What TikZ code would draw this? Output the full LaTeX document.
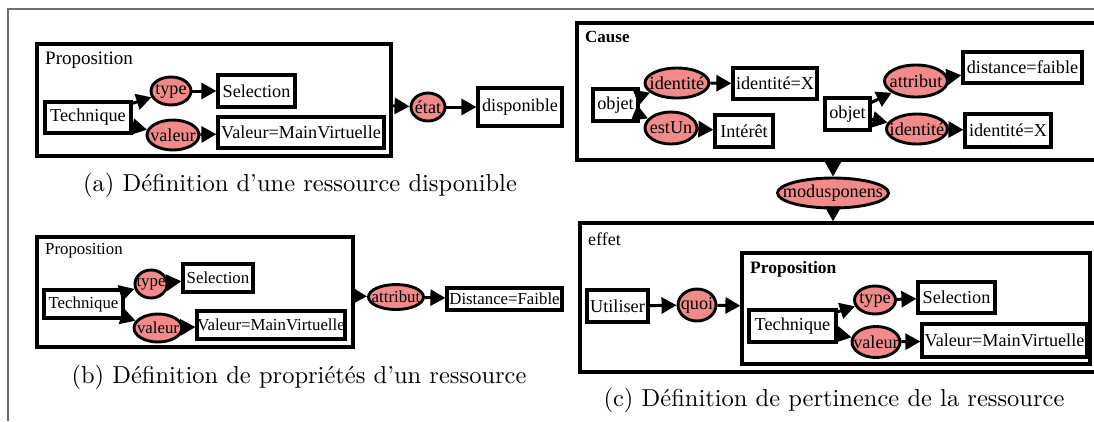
\documentclass[tikz,border=0pt]{standalone}
\usepackage{fontspec}
\usetikzlibrary{arrows.meta,shapes.geometric}
\newfontfamily\tnr{Liberation Serif}
\newfontfamily\capfont[Ligatures=TeX]{lmroman10-regular.otf}
\definecolor{relfill}{RGB}{241,138,138}
\definecolor{framegray}{RGB}{110,110,110}
\newcommand{\fixed}[1]{\makebox[0pt]{#1}}
\tikzset{
	box/.style 2 args={draw, line width=3.2pt, minimum width=#1, minimum height=#2, inner sep=0pt},
	rel/.style 2 args={ellipse, draw, fill=relfill, line width=2.9pt, minimum width=#1, minimum height=#2, inner sep=0pt},
	arr/.style={line width=3pt, -{Triangle[length=15pt,width=16pt]}},
	txt/.style={font=\tnr\fontsize{18.2}{20}\selectfont},
	txtsmall/.style={font=\tnr\fontsize{16.8}{18}\selectfont},
	title/.style={anchor=west, inner sep=0pt},
	caption/.style={font=\capfont\fontsize{24.5}{28}\selectfont}
}
\begin{document}
\begin{tikzpicture}[x=1pt,y=-1pt]
	\clip (0,0) rectangle (1094,421);
	\draw[framegray, line width=1.2pt] (8,421) -- (8,9) -- (1094,9);

	% (a)
	\begin{scope}[txt]
		\node[box={354pt}{112pt}] (propA) at (214,100) {};
		\node[title, font=\tnr\fontsize{19}{21}\selectfont] (labA) at (45,60) {Proposition};
		\node[box={86pt}{31pt}] (techA) at (88,117.5) {Technique};
		\node[rel={40pt}{28pt}] (typeA) at (171,91) {\fixed{type}};
		\node[box={77pt}{32pt}] (selA) at (256.5,91) {Selection};
		\node[rel={52pt}{30pt}] (valA) at (173,135) {\fixed{valeur}};
		\node[box={166pt}{31pt}] (valvA) at (301,132.5) {Valeur=MainVirtuelle};
		\node[rel={34pt}{28pt}] (etat) at (428,107) {\fixed{état}};
		\node[box={84pt}{38pt}] (dispo) at (520,107) {disponible};

		\draw[arr] (techA) -- (typeA);
		\draw[arr] (techA) -- (valA);
		\draw[arr] (typeA) -- (selA);
		\draw[arr] (valA) -- (valvA);
		\draw[arr] (propA) -- (etat);
		\draw[arr] (etat) -- (dispo);
	\end{scope}
	\node[caption] (capA) at (300,185) {(a) Définition d'une ressource disponible};

	% (b)
	\begin{scope}[txtsmall]
		\node[box={316pt}{110pt}] (propB) at (195,292) {};
		\node[title] (labB) at (45,251) {Proposition};
		\node[box={79pt}{28pt}] (techB) at (83.5,304) {Technique};
		\node[rel={32pt}{28pt}] (typeB) at (151,284) {\fixed{type}};
		\node[box={70pt}{28pt}] (selB) at (218,278) {Selection};
		\node[rel={48pt}{28pt}] (valB) at (158,328) {\fixed{valeur}};
		\node[box={148pt}{28pt}] (valvB) at (271,325) {Valeur=MainVirtuelle};
		\node[rel={55pt}{25pt}] (attrB) at (396,297) {\fixed{attribut}};
		\node[box={115pt}{22pt}] (distB) at (504.5,299) {Distance=Faible};

		\draw[arr] (techB) -- (typeB);
		\draw[arr] (techB) -- (valB);
		\draw[arr] (typeB) -- (selB);
		\draw[arr] (valB) -- (valvB);
		\draw[arr] (propB) -- (attrB);
		\draw[arr] (attrB) -- (distB);
	\end{scope}
	\node[caption] (capB) at (299,377) {(b) Définition de propriétés d'un ressource};

	% (c)
	\begin{scope}[txt]
		\node[box={523pt}{137pt}] (cause) at (838.5,91.5) {};
		\node[title, font=\tnr\fontsize{17}{19}\selectfont\bfseries] (labCause) at (585,37) {Cause};
		\node[box={45pt}{32pt}] (obj1) at (615.5,105) {objet};
		\node[rel={64pt}{30pt}] (id1) at (677,83) {\fixed{identité}};
		\node[box={84pt}{31pt}] (idX1) at (775,83.5) {identité=X};
		\node[rel={52pt}{32pt}] (estUn) at (671,128) {\fixed{estUn}};
		\node[box={58pt}{32pt}] (inter) at (744,131) {Intérêt};
		\node[box={45pt}{32pt}] (obj2) at (847.5,114) {objet};
		\node[rel={63pt}{32pt}] (attrC) at (916,81) {\fixed{attribut}};
		\node[box={119pt}{31pt}] (distC) at (1022.5,67.5) {distance=faible};
		\node[rel={61pt}{30pt}] (id2) at (917,129) {\fixed{identité}};
		\node[box={86pt}{33pt}] (idX2) at (1008,130.5) {identité=X};

		\draw[arr] (obj1) -- (id1);
		\draw[arr] (obj1) -- (estUn);
		\draw[arr] (id1) -- (idX1);
		\draw[arr] (estUn) -- (inter);
		\draw[arr] (obj2) -- (attrC);
		\draw[arr] (obj2) -- (id2);
		\draw[arr] (attrC) -- (distC);
		\draw[arr] (id2) -- (idX2);

		\node[rel={111pt}{30pt}] (modus) at (833,193) {\fixed{modusponens}};

		\node[box={520pt}{149pt}] (effet) at (840,297.5) {};
		\node[title, font=\tnr\fontsize{18}{20}\selectfont] (labEffet) at (588,239) {effet};
		\node[box={61pt}{32pt}] (util) at (617.5,306) {Utiliser};
		\node[rel={38pt}{32pt}] (quoi) at (697,305) {\fixed{quoi}};
		\node[box={348pt}{111pt}] (propC) at (916,308.5) {};
		\node[title, font=\tnr\fontsize{17.5}{19}\selectfont\bfseries] (labC) at (750,269) {Proposition};
		\node[box={87pt}{32pt}] (techC) at (792.5,326) {Technique};
		\node[rel={41pt}{28pt}] (typeC) at (875,300) {\fixed{type}};
		\node[box={77pt}{31pt}] (selC) at (956.5,297.5) {Selection};
		\node[rel={48pt}{31pt}] (valC) at (876,342) {\fixed{valeur}};
		\node[box={165pt}{33pt}] (valvC) at (1004.5,340.5) {Valeur=MainVirtuelle};

		\draw[arr] (cause.south -| modus) -- (modus);
		\draw[arr] (modus) -- (modus |- effet.north);
		\draw[arr] (util) -- (quoi);
		\draw[arr] (quoi) -- (propC);
		\draw[arr] (techC) -- (typeC);
		\draw[arr] (techC) -- (valC);
		\draw[arr] (typeC) -- (selC);
		\draw[arr] (valC) -- (valvC);
	\end{scope}
	\node[caption] (capC) at (834,400) {(c) Définition de pertinence de la ressource};

\end{tikzpicture}
\end{document}
